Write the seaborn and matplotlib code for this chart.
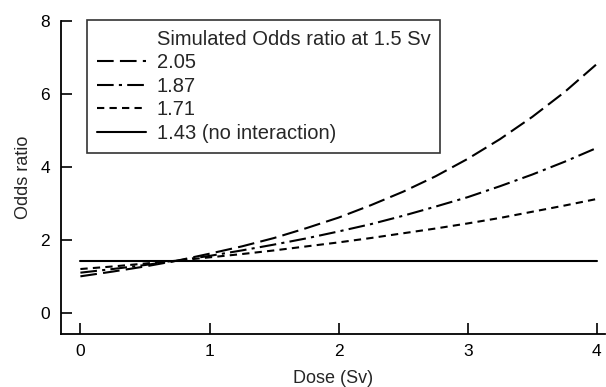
import numpy as np
import pandas as pd
import matplotlib
matplotlib.use("Agg")
import matplotlib.pyplot as plt
from matplotlib.lines import Line2D
import seaborn as sns

dose = [0.0, 0.25, 0.5, 0.75, 1.0, 1.25, 1.5, 1.75, 2.0,
        2.25, 2.5, 2.75, 3.0, 3.25, 3.5, 3.75, 4.0]
or_205 = [1.00, 1.13, 1.27, 1.43, 1.62, 1.82, 2.05, 2.32, 2.61,
          2.95, 3.32, 3.74, 4.22, 4.76, 5.37, 6.05, 6.82]
or_187 = [1.10, 1.20, 1.31, 1.43, 1.56, 1.71, 1.87, 2.04, 2.23,
          2.43, 2.66, 2.91, 3.17, 3.47, 3.79, 4.14, 4.52]
or_171 = [1.20, 1.27, 1.35, 1.43, 1.52, 1.61, 1.71, 1.82, 1.93,
          2.05, 2.18, 2.31, 2.45, 2.60, 2.77, 2.94, 3.12]
or_143 = [1.43] * 17
labels = ["2.05", "1.87", "1.71", "1.43 (no interaction)"]
legend_title = "Simulated Odds ratio at 1.5 Sv"
xticks = [0, 1, 2, 3, 4]
yticks = [0, 2, 4, 6, 8]

sns.set_style("ticks")
plt.rcParams["font.family"] = ["Liberation Sans", "DejaVu Sans"]

fig = plt.figure(figsize=(6.06, 3.87), dpi=100)
ax = fig.add_axes([0.1007, 0.137, 0.897, 0.809])

series = [or_205, or_187, or_171, or_143]
styles = [(0, (8, 3)), (0, (8, 2.5, 1.5, 2.5)), (0, (3.5, 2.5)), "-"]
for vals, lab, ls in zip(series, labels, styles):
    df = pd.DataFrame({"Dose": dose, "OR": vals})
    sns.lineplot(data=df, x="Dose", y="OR", ax=ax, color="black",
                 linewidth=1.5, linestyle=ls, label=lab, legend=False)

ax.set_xlim(-0.15, 4.06)
ax.set_ylim(-0.58, 8.0)
ax.set_xticks(xticks)
ax.set_yticks(yticks)
ax.tick_params(direction="in", length=8, width=1.2, labelsize=12.5, colors="black")
ax.tick_params(axis="y", pad=8)
ax.tick_params(axis="x", pad=7)
for s in ["top", "right"]:
    ax.spines[s].set_visible(False)
for s in ["left", "bottom"]:
    ax.spines[s].set_linewidth(1.3)
    ax.spines[s].set_color("black")
ax.set_xlabel("Dose (Sv)", fontsize=13, labelpad=8)
ax.set_ylabel("Odds ratio", fontsize=13, labelpad=6)

handles = [Line2D([], [], color="none")]
for ls in styles:
    handles.append(Line2D([], [], color="black", linewidth=1.5, linestyle=ls))
leg = ax.legend(handles, [legend_title] + labels, loc="upper left",
                bbox_to_anchor=(0.048, 1.003), borderaxespad=0, frameon=True,
                fancybox=False, fontsize=14.5, handlelength=2.4,
                handletextpad=0.55, labelspacing=0.22, borderpad=0.5)
leg.get_frame().set_edgecolor("black")
leg.get_frame().set_linewidth(1.2)

fig.savefig("out.png", dpi=100)
